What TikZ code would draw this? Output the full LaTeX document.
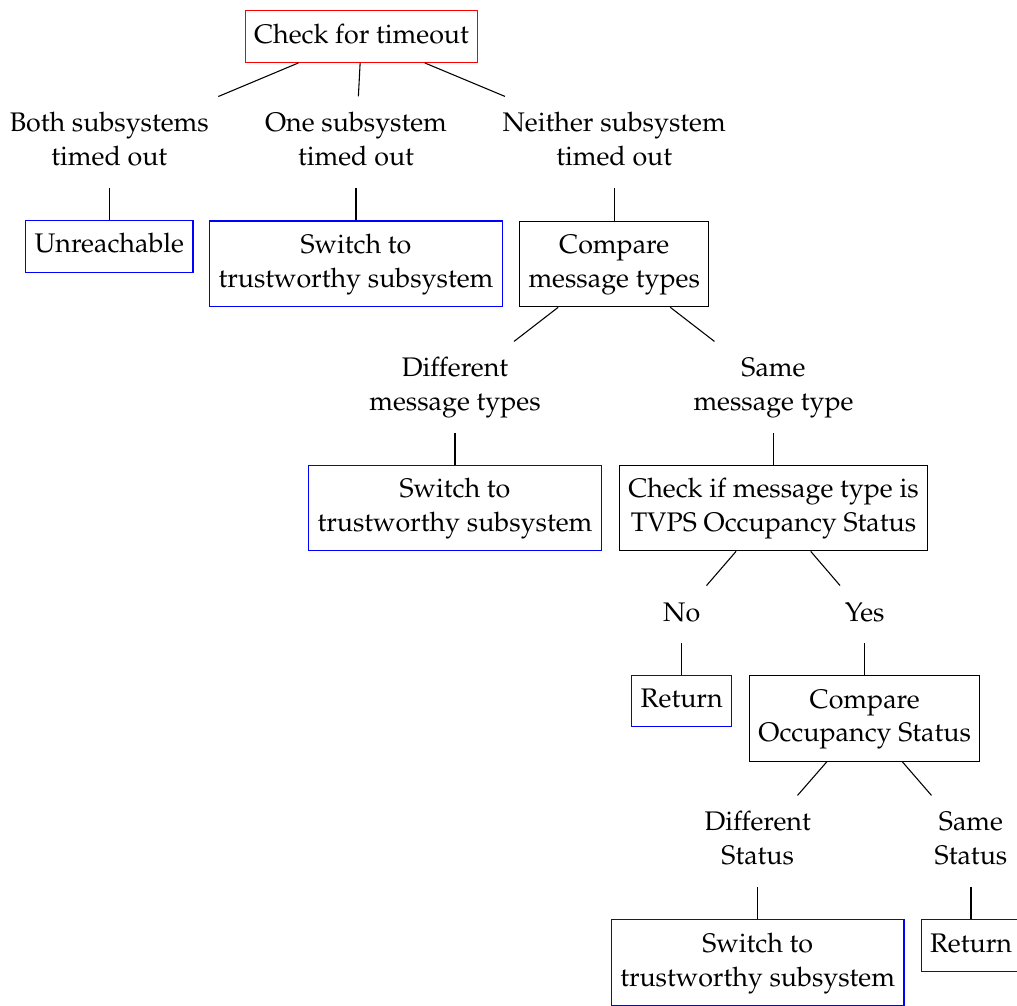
\documentclass[tikz,border=0pt]{standalone}
\usepackage[T1]{fontenc}
\usepackage{mathpazo}
\linespread{1.05}
\newcommand{\tb}[1]{\begin{tabular}{@{}c@{}}#1\end{tabular}}
\tikzset{
  lbl/.style={inner xsep=0.3333em, inner ysep=4.2pt},
  redbox/.style={draw=red, inner sep=0.3333em},
  bluebox/.style={draw=blue, inner sep=0.3333em},
  blackbox/.style={draw=black, inner sep=0.3333em},
  conn/.style={draw=black, line width=0.4pt}
}
\begin{document}
\begin{tikzpicture}[x=0.3723pt, y=-0.3723pt]
\useasboundingbox (0,0) rectangle (1017,1005);
\node[redbox]   (root) at (361.5,36.5) {\tb{Check for timeout}};
\node[lbl]      (t1)   at (109.3,142.1) {\tb{Both subsystems\\timed out}};
\node[lbl]      (t2)   at (356,142.1)   {\tb{One subsystem\\timed out}};
\node[lbl]      (t3)   at (614.2,142.1) {\tb{Neither subsystem\\timed out}};
\node[bluebox]  (b1)   at (109.3,246.2) {\tb{Unreachable}};
\node[bluebox]  (b2)   at (356,263.8)   {\tb{Switch to\\trustworthy subsystem}};
\node[blackbox] (b3)   at (614.2,264)   {\tb{Compare\\message types}};
\node[lbl]      (t4)   at (455,387.1)   {\tb{Different\\message types}};
\node[lbl]      (t5)   at (773.5,387.1) {\tb{Same\\message type}};
\node[bluebox]  (b4)   at (455,508)     {\tb{Switch to\\trustworthy subsystem}};
\node[blackbox] (b5)   at (773.5,508)   {\tb{Check if message type is\\TVPS Occupancy Status}};
\node[lbl]      (t6)   at (681.7,614.3) {\tb{No}};
\node[lbl]      (t7)   at (864.7,614.3) {\tb{Yes}};
\node[bluebox]  (b6)   at (681.7,701)   {\tb{Return}};
\node[blackbox] (b7)   at (864.7,718.3) {\tb{Compare\\Occupancy Status}};
\node[lbl]      (t8)   at (757.7,841.1) {\tb{Different\\Status}};
\node[lbl]      (t9)   at (971,841.1)   {\tb{Same\\Status}};
\node[bluebox]  (b8)   at (757.7,962.6) {\tb{Switch to\\trustworthy subsystem}};
\node[bluebox]  (b9)   at (971,945.7)   {\tb{Return}};
\draw[conn] (root) -- (t1);
\draw[conn] (root) -- (t2);
\draw[conn] (root) -- (t3);
\draw[conn] (t1) -- (b1);
\draw[conn] (t2) -- (b2);
\draw[conn] (t3) -- (b3);
\draw[conn] (b3) -- (t4);
\draw[conn] (b3) -- (t5);
\draw[conn] (t4) -- (b4);
\draw[conn] (t5) -- (b5);
\draw[conn] (b5) -- (t6);
\draw[conn] (b5) -- (t7);
\draw[conn] (t6) -- (b6);
\draw[conn] (t7) -- (b7);
\draw[conn] (b7) -- (t8);
\draw[conn] (b7) -- (t9);
\draw[conn] (t8) -- (b8);
\draw[conn] (t9) -- (b9);
\end{tikzpicture}
\end{document}
